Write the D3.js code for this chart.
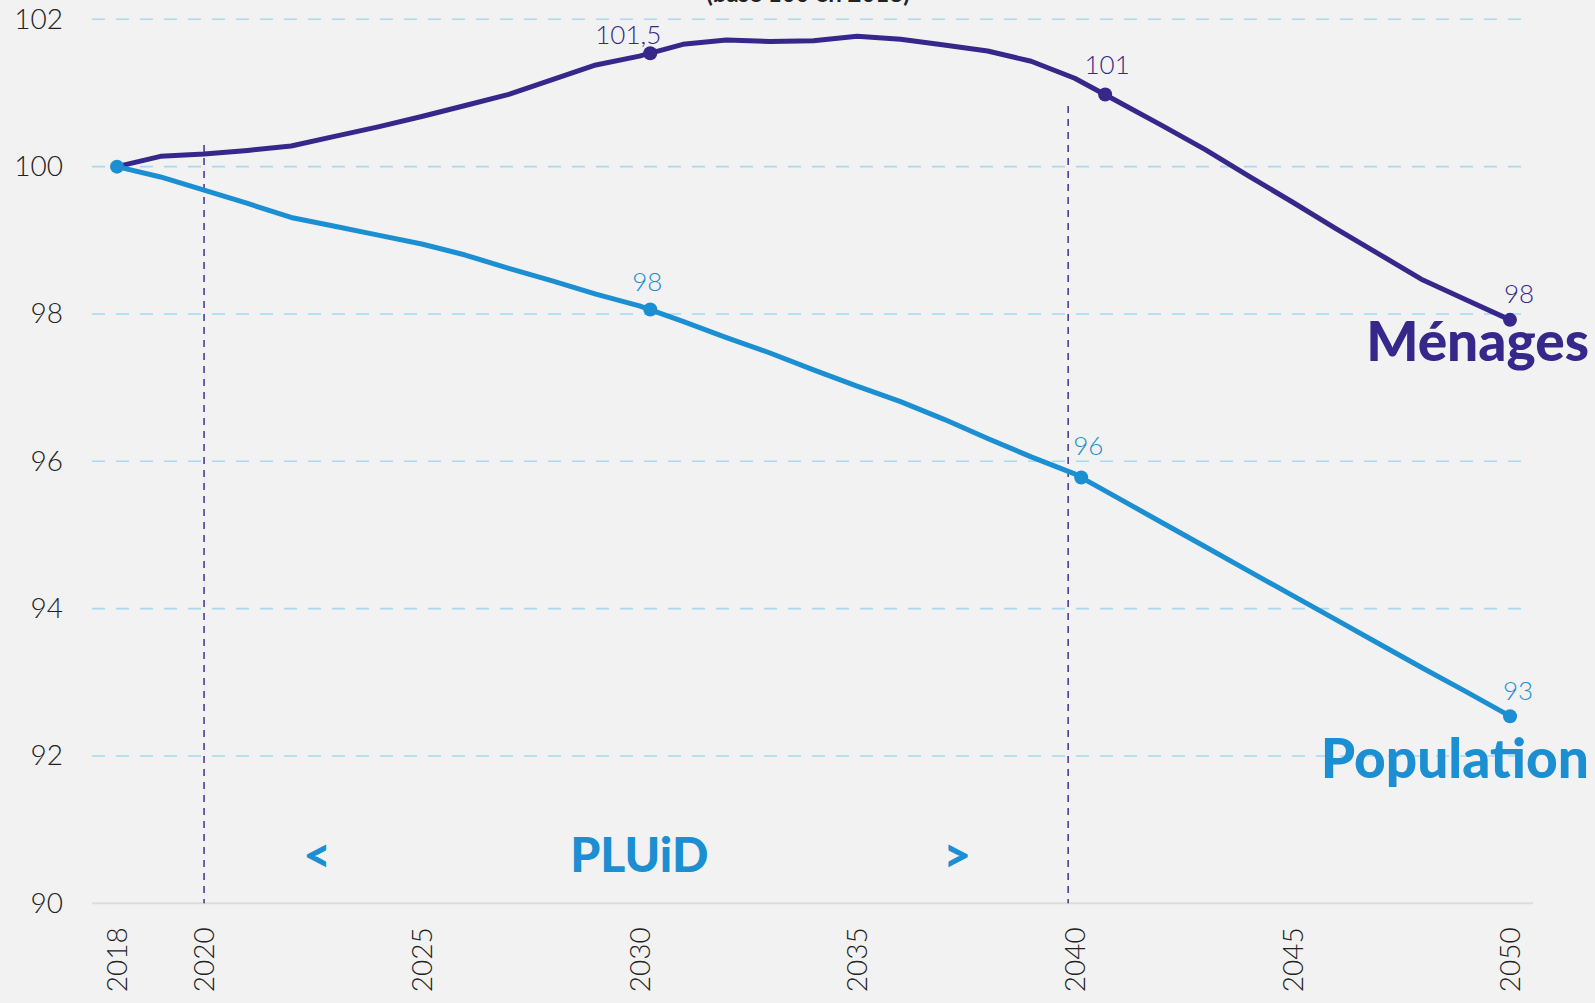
<!DOCTYPE html>
<html>
<head>
<meta charset="utf-8">
<script src="https://cdn.jsdelivr.net/npm/d3@7"></script>
<style>
  body { margin: 0; background: #f2f2f2; }
  svg { display: block; font-family: Lato, "Open Sans", sans-serif; }
</style>
</head>
<body>
<div id="chart"></div>
<script>
// Years on the x axis
const years = [2018, 2019, 2020, 2021, 2022, 2023, 2024, 2025, 2026, 2027, 2028,
  2029, 2030, 2031, 2032, 2033, 2034, 2035, 2036, 2037, 2038, 2039, 2040,
  2041, 2042, 2043, 2044, 2045, 2046, 2047, 2048, 2049, 2050];

// Index base 100 in 2018
const menages = [100, 100.14, 100.17, 100.22, 100.28, 100.41, 100.54, 100.68, 100.83,
  100.98, 101.18, 101.38, 101.50, 101.66, 101.72, 101.70, 101.71, 101.77, 101.73,
  101.65, 101.57, 101.43, 101.20, 100.88, 100.56, 100.23, 99.87, 99.52, 99.16,
  98.81, 98.46, 98.19, 97.92];

const population = [100, 99.86, 99.68, 99.50, 99.31, 99.19, 99.07, 98.95, 98.80,
  98.62, 98.45, 98.27, 98.11, 97.90, 97.68, 97.47, 97.24, 97.02, 96.81, 96.57,
  96.31, 96.06, 95.83, 95.50, 95.17, 94.84, 94.51, 94.18, 93.85, 93.52, 93.19,
  92.87, 92.54];

// Highlighted points with their labels
const menagesPoints = [
  { year: 2030.25, value: 101.54, label: "101,5" },
  { year: 2040.7, value: 100.98, label: "101" },
  { year: 2050, value: 97.92, label: "98" }
];
const populationPoints = [
  { year: 2018, value: 100, label: "" },
  { year: 2030.25, value: 98.06, label: "98" },
  { year: 2040.15, value: 95.78, label: "96" },
  { year: 2050, value: 92.54, label: "93" }
];

const xTicks = [2018, 2020, 2025, 2030, 2035, 2040, 2045, 2050];
const yTicks = [90, 92, 94, 96, 98, 100, 102];

// PLUiD period (2020 -> 2040)
const pluidBounds = [2020, 2039.85];

const width = 1595;
const height = 1003;
const font = "Lato, 'Open Sans', sans-serif";

const colMenages = "#35288a";
const colPop = "#1b8fd2";

const svg = d3.select("#chart")
  .append("svg")
  .attr("width", width)
  .attr("height", height);

svg.append("rect")
  .attr("width", width)
  .attr("height", height)
  .attr("fill", "#f2f2f2");

const x = d3.scaleLinear()
  .domain([2018, 2050])
  .range([117, 1510]);

const y = d3.scaleLinear()
  .domain([90, 102])
  .range([903.3, 19.3]);

// horizontal dashed gridlines
svg.append("g")
  .selectAll("line")
  .data(yTicks.filter(d => d > 90))
  .enter()
  .append("line")
  .attr("x1", 92)
  .attr("x2", 1528)
  .attr("y1", d => y(d))
  .attr("y2", d => y(d))
  .attr("stroke", "#a9d9ee")
  .attr("stroke-width", 1.6)
  .attr("stroke-dasharray", "13,11");

// baseline
svg.append("line")
  .attr("x1", 92)
  .attr("x2", 1533)
  .attr("y1", y(90))
  .attr("y2", y(90))
  .attr("stroke", "#dcdcdc")
  .attr("stroke-width", 2);

// y axis labels
const yAxis = svg.append("g")
  .attr("transform", "translate(63,0)")
  .call(d3.axisLeft(y).tickValues(yTicks).tickSize(0).tickPadding(0));
yAxis.select(".domain").remove();
yAxis.selectAll("text")
  .attr("fill", "#222")
  .style("font-family", font)
  .style("font-size", "28px")
  .style("font-weight", 300);

// x axis labels (rotated)
const xAxis = svg.append("g")
  .attr("transform", `translate(0, ${y(90)})`)
  .call(d3.axisBottom(x).tickValues(xTicks).tickFormat(d3.format("d")).tickSize(0));
xAxis.select(".domain").remove();
xAxis.selectAll("text")
  .attr("fill", "#222")
  .style("font-family", font)
  .style("font-size", "28px")
  .style("font-weight", 300)
  .attr("text-anchor", "end")
  .attr("transform", "rotate(-90)")
  .attr("x", -24)
  .attr("y", 0)
  .attr("dy", "0.35em");

// PLUiD dashed verticals
svg.append("g")
  .selectAll("line")
  .data(pluidBounds)
  .enter()
  .append("line")
  .attr("x1", d => x(d))
  .attr("x2", d => x(d))
  .attr("y1", (d, i) => i === 0 ? 145 : 106)
  .attr("y2", y(90))
  .attr("stroke", "#4a3d96")
  .attr("stroke-width", 1.6)
  .attr("stroke-dasharray", "7,6");

// PLUiD label
const pluid = [
  { year: 2022.6, text: "<" },
  { year: 2030, text: "PLUiD" },
  { year: 2037.3, text: ">" }
];
svg.append("g")
  .selectAll("text")
  .data(pluid)
  .enter()
  .append("text")
  .attr("x", d => x(d.year))
  .attr("y", y(90) - 31)
  .attr("text-anchor", "middle")
  .attr("fill", colPop)
  .style("font-size", "48px")
  .style("font-weight", 900)
  .text(d => d.text);

// lines
const line = d3.line()
  .x(d => x(d[0]))
  .y(d => y(d[1]));

svg.append("path")
  .datum(years.map((yr, i) => [yr, menages[i]]))
  .attr("d", line)
  .attr("fill", "none")
  .attr("stroke", colMenages)
  .attr("stroke-width", 5)
  .attr("stroke-linejoin", "round");

svg.append("path")
  .datum(years.map((yr, i) => [yr, population[i]]))
  .attr("d", line)
  .attr("fill", "none")
  .attr("stroke", colPop)
  .attr("stroke-width", 5)
  .attr("stroke-linejoin", "round");

// point labels offsets (dx, dy) tuned to the picture
const menOffsets = [[-22, -9], [2, -20], [9, -17]];
const popOffsets = [[0, 0], [-3, -19], [7, -23], [8, -16]];

function drawPoints(points, offsets, color) {
  svg.append("g")
    .selectAll("circle")
    .data(points)
    .enter()
    .append("circle")
    .attr("cx", d => x(d.year))
    .attr("cy", d => y(d.value))
    .attr("r", 7)
    .attr("fill", color);

  svg.append("g")
    .selectAll("text")
    .data(points)
    .enter()
    .append("text")
    .attr("x", (d, i) => x(d.year) + offsets[i][0])
    .attr("y", (d, i) => y(d.value) + offsets[i][1])
    .attr("text-anchor", "middle")
    .attr("fill", color)
    .style("font-size", "26px")
    .style("font-weight", 300)
    .text(d => d.label);
}

drawPoints(menagesPoints, menOffsets, colMenages);
drawPoints(populationPoints, popOffsets, colPop);

// series names
svg.append("text")
  .attr("x", 1589)
  .attr("y", 361)
  .attr("text-anchor", "end")
  .attr("fill", colMenages)
  .style("font-size", "55px")
  .style("font-weight", 900)
  .text("Ménages");

svg.append("text")
  .attr("x", 1589)
  .attr("y", 778)
  .attr("text-anchor", "end")
  .attr("fill", colPop)
  .style("font-size", "55px")
  .style("font-weight", 900)
  .text("Population");

// title, cut by the top of the frame
svg.append("text")
  .attr("x", 808)
  .attr("y", 2)
  .attr("text-anchor", "middle")
  .attr("fill", "#222")
  .style("font-size", "24px")
  .style("font-weight", 700)
  .text("(base 100 en 2018)");
</script>
</body>
</html>
